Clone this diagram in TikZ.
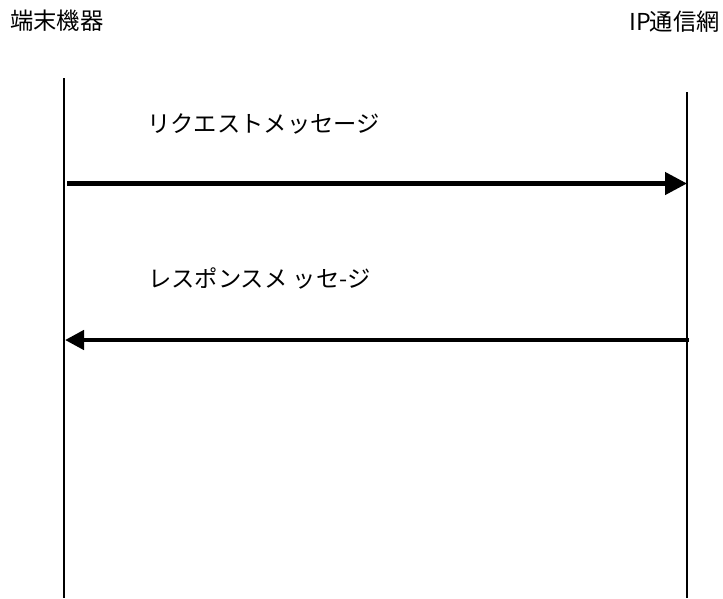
\documentclass[tikz,border=0pt]{standalone}
\usepackage{fontspec}
\setmainfont{Noto Sans CJK JP}
\usetikzlibrary{arrows.meta}
\begin{document}
\begin{tikzpicture}[x=1pt,y=-1pt,
  lbl/.style={inner sep=0pt,font=\fontsize{23.3}{23.3}\selectfont},
  life/.style={line width=1.8pt},
  msg/.style={line width=4.5pt,-{Triangle[length=22pt,width=22pt]}}]
\useasboundingbox (0,0) rectangle (723,598);
\node[lbl,anchor=west] (dev) at (10,21) {端末機器};
\node[lbl,anchor=east] (net) at (720,22) {\makebox[0.5em]{I}\makebox[0.5em]{P}通信網};
\coordinate (ltop) at (64,78);
\coordinate (lbot) at (64,598);
\coordinate (rtop) at (687,92);
\coordinate (rbot) at (687,598);
\draw[life] (ltop) -- (lbot);
\draw[life] (rtop) -- (rbot);
\coordinate (req1) at (67,183.5);
\coordinate (req2) at (687,183.5);
\coordinate (res1) at (689,340);
\coordinate (res2) at (65,340);
\draw[msg] (req1) -- (req2);
\draw[msg,-{Triangle[length=19pt,width=19pt]}] (res1) -- (res2);
\node[lbl,anchor=west] (reqlbl) at (147,124) {リクエストメッセージ};
\node[lbl,anchor=west] (reslbl) at (148,278) {レスポンスメ ッセ-ジ};
\end{tikzpicture}
\end{document}
